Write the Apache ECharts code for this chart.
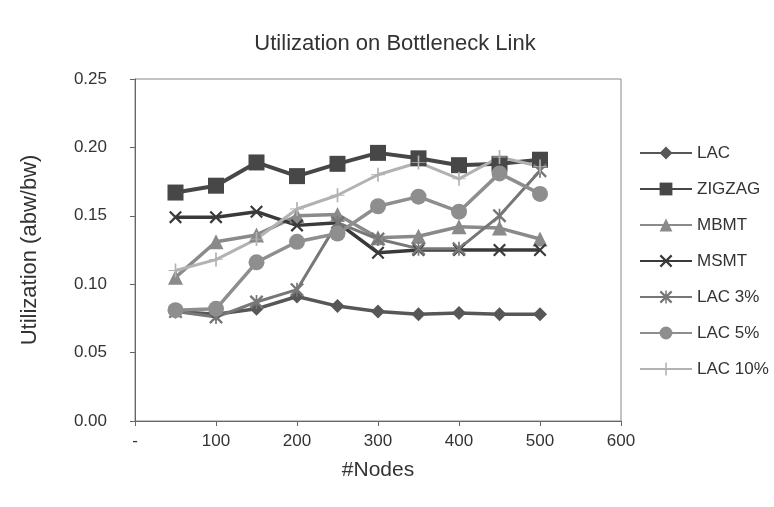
<!DOCTYPE html>
<html><head><meta charset="utf-8">
<script src="https://cdn.jsdelivr.net/npm/echarts@6/dist/echarts.min.js"></script>
<style>html,body{margin:0;padding:0;background:#fff;}#c{width:774px;height:507px;}</style>
</head><body><div id="c"></div>
<script>
var nodes = [50,100,150,200,250,300,350,400,450,500];
var lac    = [0.080,0.078,0.082,0.091,0.084,0.080,0.078,0.079,0.078,0.078];
var zigzag = [0.167,0.172,0.189,0.179,0.188,0.196,0.192,0.187,0.188,0.191];
var mbmt   = [0.105,0.131,0.136,0.150,0.151,0.134,0.135,0.142,0.141,0.133];
var msmt   = [0.149,0.149,0.153,0.143,0.145,0.123,0.125,0.125,0.125,0.125];
var lac3   = [0.080,0.076,0.087,0.096,0.145,0.133,0.126,0.126,0.150,0.183];
var lac5   = [0.081,0.082,0.116,0.131,0.137,0.157,0.164,0.153,0.181,0.166];
var lac10  = [0.110,0.118,0.133,0.155,0.165,0.180,0.189,0.177,0.193,0.186];
var seriesNames = ['LAC','ZIGZAG','MBMT','MSMT','LAC 3%','LAC 5%','LAC 10%'];
var xTicks = [0,100,200,300,400,500,600];
var yTicks = [0,0.05,0.10,0.15,0.20,0.25];

var X = 'path://M0,1.2L1.2,0L10,8.8L8.8,10ZM8.8,0L10,1.2L1.2,10L0,8.8Z';
var AST = 'path://M0,1.2L1.2,0L10,8.8L8.8,10ZM8.8,0L10,1.2L1.2,10L0,8.8ZM4.4,0L5.6,0L5.6,10L4.4,10Z';
var PLUS = 'path://M4.4,0L5.6,0L5.6,10L4.4,10ZM0,4.7L10,4.7L10,5.3L0,5.3Z';

function mk(name, vals, color, symbol, size, width){
  return {
    name: name, type: 'line', data: nodes.map(function(n,i){return [n, vals[i]];}),
    symbol: symbol, symbolSize: size, showAllSymbol: true,
    lineStyle: {color: color, width: width},
    itemStyle: {color: color, borderColor: color, borderWidth: 0},
    emphasis: {disabled: true}, animation: false
  };
}
var datas = [lac, zigzag, mbmt, msmt, lac3, lac5, lac10];
var colors = ['#575757','#474747','#8a8a8a','#3a3a3a','#777777','#8e8e8e','#b2b2b2'];
var symbols = ['diamond','rect','triangle', X, AST, 'circle', PLUS];
var sizes = [14, 16, 15, 13, 14, 16, 14];
var widths = [3.5, 4, 3.5, 3.5, 3, 3.5, 3];
var series = seriesNames.map(function(n,i){return mk(n, datas[i], colors[i], symbols[i], sizes[i], widths[i]);});

var chart = echarts.init(document.getElementById('c'));
chart.setOption({
  backgroundColor: '#fff',
  animation: false,
  textStyle: {fontFamily: 'Liberation Sans, Arial, sans-serif'},
  title: {text: 'Utilization on Bottleneck Link', left: 390, top: 28, textAlign: 'center',
    textStyle: {fontSize: 22, fontWeight: 'normal', color: '#333', fontFamily: 'Liberation Sans, Arial, sans-serif'}},
  legend: {orient: 'vertical', left: 634, top: 139, itemWidth: 52, itemHeight: 16, itemGap: 18,
    textStyle: {fontSize: 17, lineHeight: 18, color: '#333'},
    data: seriesNames},
  grid: {left: 135, right: 153, top: 79, bottom: 86, show: true, borderColor: '#888', borderWidth: 1, backgroundColor: 'transparent'},
  xAxis: {type: 'value', min: 0, max: 600, interval: 100,
    name: '#Nodes', nameLocation: 'middle', nameGap: 39,
    nameTextStyle: {fontSize: 21, color: '#333'},
    axisLine: {lineStyle: {color: '#666'}}, axisTick: {show: true, length: 5, lineStyle: {color: '#666'}},
    splitLine: {show: false},
    axisLabel: {fontSize: 17, color: '#333', margin: 12, formatter: function(v){return v===0?'-':String(v);}}},
  yAxis: {type: 'value', min: 0, max: 0.25, interval: 0.05,
    name: 'Utilization (abw/bw)', nameLocation: 'middle', nameGap: 94, nameRotate: 90,
    nameTextStyle: {fontSize: 22, color: '#333'},
    axisLine: {show: true, lineStyle: {color: '#666'}}, axisTick: {show: true, length: 5, lineStyle: {color: '#666'}},
    splitLine: {show: false},
    axisLabel: {fontSize: 17, color: '#333', margin: 28, formatter: function(v){return v.toFixed(2);}}},
  series: series
});
</script></body></html>
